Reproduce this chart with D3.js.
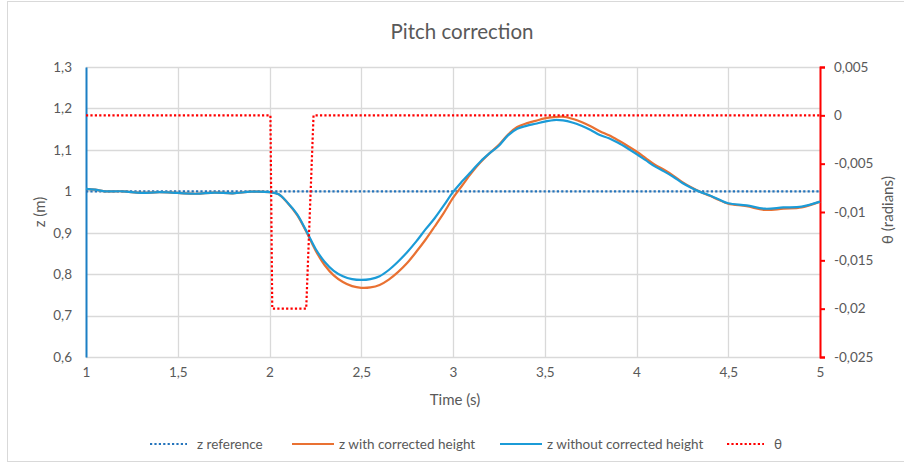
<!DOCTYPE html>
<html>
<head>
<meta charset="utf-8">
<script src="https://cdn.jsdelivr.net/npm/d3@7"></script>
<style>
  body { margin: 0; background: #fff; }
  text { font-family: Lato, "Open Sans", sans-serif; fill: #595959; }
</style>
</head>
<body>
<script>
// time samples for the z curves
const times = [1.0, 1.05, 1.1, 1.2, 1.3, 1.4, 1.5, 1.6, 1.7, 1.8, 1.9, 2.0, 2.05, 2.1, 2.15, 2.2, 2.25, 2.3, 2.35, 2.4,
  2.45, 2.5, 2.55, 2.6, 2.65, 2.7, 2.75, 2.8, 2.85, 2.9, 2.95, 3.0, 3.05, 3.1, 3.15, 3.2, 3.25, 3.3, 3.35, 3.4,
  3.45, 3.5, 3.55, 3.6, 3.65, 3.7, 3.75, 3.8, 3.85, 3.9, 3.95, 4.0, 4.05, 4.1, 4.15, 4.2, 4.25, 4.3, 4.35, 4.4,
  4.45, 4.5, 4.6, 4.7, 4.8, 4.9, 5.0];
const zWithout = [1.006, 1.004, 1.0, 1.0, 0.996, 0.998, 0.996, 0.994, 0.997, 0.995, 0.999, 0.998, 0.993, 0.972, 0.945, 0.905, 0.862, 0.83, 0.808, 0.795,
  0.788, 0.786, 0.788, 0.795, 0.81, 0.83, 0.853, 0.879, 0.908, 0.935, 0.966, 0.998, 1.024, 1.048, 1.072, 1.092, 1.11, 1.135, 1.151, 1.158,
  1.163, 1.168, 1.172, 1.171, 1.166, 1.158, 1.148, 1.136, 1.128, 1.117, 1.104, 1.09, 1.075, 1.06, 1.048, 1.035, 1.02, 1.008, 0.998, 0.99,
  0.98, 0.971, 0.966, 0.958, 0.961, 0.963, 0.975];
const zWith = [1.006, 1.004, 1.0, 1.0, 0.996, 0.998, 0.996, 0.994, 0.997, 0.995, 0.999, 0.998, 0.993, 0.971, 0.943, 0.903, 0.858, 0.822, 0.797, 0.781,
  0.771, 0.767, 0.768, 0.774, 0.787, 0.805, 0.827, 0.854, 0.883, 0.915, 0.948, 0.984, 1.014, 1.044, 1.07, 1.092, 1.112, 1.137, 1.155, 1.164,
  1.17, 1.176, 1.179, 1.18, 1.175, 1.167, 1.157, 1.145, 1.135, 1.123, 1.11, 1.096, 1.08, 1.064, 1.052, 1.038, 1.022, 1.009, 0.998, 0.989,
  0.979, 0.97, 0.964, 0.955, 0.958, 0.961, 0.975];
const refTimes = [1, 5];
const zRef = [1, 1];
const thetaTimes = [1, 2.005, 2.015, 2.2, 2.24, 5];
const theta = [0, 0, -0.02, -0.02, 0, 0];

const xTicks = [1, 1.5, 2, 2.5, 3, 3.5, 4, 4.5, 5];
const zTicks = [0.6, 0.7, 0.8, 0.9, 1, 1.1, 1.2, 1.3];
const thetaTicks = [-0.025, -0.02, -0.015, -0.01, -0.005, 0, 0.005];

const seriesNames = ["z reference", "z with corrected height", "z without corrected height", "θ"];
const colors = ["#2474BC", "#E97132", "#1B9BD7", "#FF0000"];

const width = 904, height = 468;
const m = { left: 86, right: 820, top: 67, bottom: 357 };

const svg = d3.select("body").append("svg")
  .attr("width", width).attr("height", height);

svg.append("rect").attr("x", 7.5).attr("y", 1.5).attr("width", 1000).attr("height", 460)
  .attr("fill", "#fff").attr("stroke", "#d9d9d9");

const x = d3.scaleLinear().domain([1, 5]).range([m.left, m.right]);
const y = d3.scaleLinear().domain([0.6, 1.3]).range([m.bottom, m.top]);
const y2 = d3.scaleLinear().domain([-0.025, 0.005]).range([m.bottom, m.top]);

const fmt = v => String(+v.toFixed(3)).replace(".", ",");

// grid
svg.append("g").selectAll("line").data(zTicks).join("line")
  .attr("x1", m.left).attr("x2", m.right)
  .attr("y1", d => Math.round(y(d)) + 0.5).attr("y2", d => Math.round(y(d)) + 0.5)
  .attr("stroke", "#d9d9d9").attr("stroke-width", 1.3);
svg.append("g").selectAll("line").data(xTicks.slice(1)).join("line")
  .attr("y1", m.top).attr("y2", m.bottom)
  .attr("x1", d => Math.round(x(d)) + 0.5).attr("x2", d => Math.round(x(d)) + 0.5)
  .attr("stroke", "#d9d9d9").attr("stroke-width", 1.3);

// left axis
svg.append("g").attr("transform", `translate(${m.left},0)`)
  .call(d3.axisLeft(y).tickValues(zTicks).tickFormat(fmt).tickSize(0).tickPadding(14))
  .call(g => g.select(".domain").attr("stroke", "#1B7FC4").attr("stroke-width", 2))
  .call(g => g.selectAll("text").style("font-size", "13.5px").attr("fill", "#595959"));

// right axis
svg.append("g").attr("transform", `translate(${m.right},0)`)
  .call(d3.axisRight(y2).tickValues(thetaTicks).tickFormat(fmt).tickSize(5).tickPadding(9))
  .call(g => g.select(".domain").attr("stroke", "#FF0000").attr("stroke-width", 2))
  .call(g => g.selectAll(".tick line").attr("stroke", "#FF0000").attr("stroke-width", 2))
  .call(g => g.selectAll("text").style("font-size", "13.5px").attr("fill", "#595959"));

// bottom axis labels
svg.append("g").attr("transform", `translate(0,${m.bottom})`)
  .call(d3.axisBottom(x).tickValues(xTicks).tickFormat(fmt).tickSize(0).tickPadding(10))
  .call(g => g.select(".domain").remove())
  .call(g => g.selectAll("text").style("font-size", "13.5px").attr("fill", "#595959"));

// lines
const line = (xs, ys, sc) => d3.line().curve(d3.curveCatmullRom.alpha(0.5))
  .x((d, i) => x(xs[i])).y(d => sc(d))(ys);
const straight = (xs, ys, sc) => d3.line().x((d, i) => x(xs[i])).y(d => sc(d))(ys);

svg.append("path").attr("d", straight(refTimes, zRef, y))
  .attr("fill", "none").attr("stroke", colors[0]).attr("stroke-width", 2.2).attr("stroke-dasharray", "2.2,2.2");
svg.append("path").attr("d", line(times, zWith, y))
  .attr("fill", "none").attr("stroke", colors[1]).attr("stroke-width", 2.2);
svg.append("path").attr("d", line(times, zWithout, y))
  .attr("fill", "none").attr("stroke", colors[2]).attr("stroke-width", 2.2);
svg.append("path").attr("d", straight(thetaTimes, theta, y2))
  .attr("fill", "none").attr("stroke", colors[3]).attr("stroke-width", 2.2).attr("stroke-dasharray", "2.2,2.2");

// titles
svg.append("text").attr("x", 462).attr("y", 39).attr("text-anchor", "middle")
  .style("font-size", "20.5px").text("Pitch correction");
svg.append("text").attr("x", 455).attr("y", 405).attr("text-anchor", "middle")
  .style("font-size", "15px").text("Time (s)");
svg.append("text").attr("transform", "translate(45,212) rotate(-90)").attr("text-anchor", "middle")
  .style("font-size", "15px").text("z (m)");
svg.append("text").attr("transform", "translate(893,210) rotate(-90)").attr("text-anchor", "middle")
  .style("font-size", "15px").text("θ (radians)");

// legend
const legendX = [150, 292, 500, 727];
const lg = svg.append("g").selectAll("g").data(seriesNames).join("g")
  .attr("transform", (d, i) => `translate(${legendX[i]},444)`);
lg.append("line").attr("x1", 0).attr("x2", (d, i) => i === 0 || i === 3 ? 37 : 42)
  .attr("stroke", (d, i) => colors[i]).attr("stroke-width", 2.2)
  .attr("stroke-dasharray", (d, i) => i === 0 || i === 3 ? "2.2,2.2" : null);
lg.append("text").attr("x", (d, i) => i === 0 || i === 3 ? 47 : 47).attr("dy", "0.35em")
  .style("font-size", "13.5px").text(d => d);
</script>
</body>
</html>
